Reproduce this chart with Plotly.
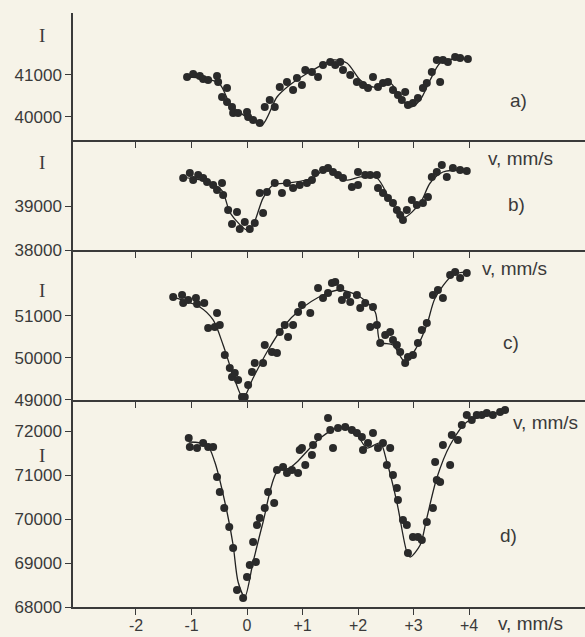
import plotly.graph_objects as go

# ---------------- data ----------------
# panel a
a_v = [-1.08,-0.97,-0.85,-0.79,-0.70,-0.54,-0.52,-0.36,-0.45,-0.36,-0.27,-0.25,-0.16,0.00,0.02,0.11,0.23,0.32,0.41,0.50,
       0.59,0.72,0.83,0.90,0.99,1.05,1.17,1.28,1.37,1.50,1.59,1.68,1.73,1.86,1.98,2.09,2.18,2.27,2.36,2.45,2.54,2.63,2.72,
       2.85,2.79,2.90,2.99,3.08,3.17,3.24,3.33,3.42,3.48,3.53,3.62,3.75,3.84,3.98]
a_I = [40952,41024,40976,40905,40881,40976,40833,40690,40476,40357,40238,40095,40095,40119,40000,39929,39857,40238,40405,40238,
       40714,40833,40643,40929,40762,41119,41071,40952,41238,41310,41238,41310,41119,41000,40833,40762,40690,40952,40714,40810,
       40833,40643,40524,40595,40405,40286,40333,40452,40690,40810,41071,41357,40833,41357,41310,41429,41405,41381]
a_fit_v = [-1.08,-0.8,-0.5,-0.3,-0.1,0.05,0.27,0.54,0.77,1.19,1.55,1.8,2.04,2.27,2.58,2.76,2.94,3.12,3.30,3.48,3.71,3.98]
a_fit_I = [40950,40920,40800,40300,40080,39950,39810,40476,40762,41119,41357,41286,40880,40714,40810,40476,40238,40405,40880,
           41286,41381,41381]

# panel b
b_v = [-1.15,-1.03,-0.97,-0.88,-0.79,-0.72,-0.61,-0.45,-0.54,-0.43,-0.34,-0.18,-0.27,-0.13,-0.04,0.05,0.14,0.29,0.23,0.36,
       0.50,0.63,0.72,0.83,0.95,1.08,1.17,1.23,1.37,1.46,1.55,1.64,1.73,1.89,2.00,2.00,2.13,2.22,2.34,2.36,2.45,2.54,2.63,
       2.70,2.76,2.81,2.88,2.97,3.06,3.17,3.26,3.33,3.42,3.51,3.60,3.71,3.84,3.96]
b_I = [39636,39750,39591,39705,39636,39545,39477,39523,39364,39250,38909,38864,38591,38477,38636,38477,38614,38841,39295,39318,
       39523,39295,39523,39409,39477,39523,39591,39750,39818,39864,39773,39705,39636,39432,39477,39773,39705,39705,39705,39409,
       39295,39182,39068,38909,38795,38682,38909,39136,39023,39068,39205,39659,39773,39932,39659,39864,39818,39795]
b_fit_v = [-1.15,-0.7,-0.45,-0.3,0.0,0.11,0.29,0.47,0.77,1.19,1.44,1.8,2.04,2.34,2.58,2.81,3.12,3.30,3.53,3.96]
b_fit_I = [39650,39550,39350,38840,38455,38570,39180,39477,39523,39636,39864,39590,39660,39636,39136,38730,39068,39523,
           39773,39818]

# panel c
c_v = [-1.33,-1.17,-1.15,-1.06,-0.92,-0.90,-0.77,-0.70,-0.54,-0.58,-0.49,-0.40,-0.31,-0.27,-0.22,-0.16,-0.09,-0.04,0.02,0.09,
       0.14,0.29,0.32,0.45,0.54,0.59,0.68,0.74,0.83,0.92,0.99,1.14,1.28,1.37,1.46,1.53,1.59,1.68,1.71,1.80,1.86,1.98,2.04,
       2.13,2.27,2.22,2.34,2.40,2.49,2.58,2.63,2.70,2.76,2.85,2.90,2.99,3.08,3.15,3.24,3.35,3.44,3.53,3.66,3.75,3.84,3.96]
c_I = [51452,51500,51310,51381,51429,51286,51310,50714,51071,50738,50786,50071,49762,49548,49643,49476,49071,49071,49357,49667,
       49881,49881,50310,50143,50119,50619,50786,50500,50786,51095,51262,51071,51667,51429,51548,51786,51810,51667,51381,51500,
       51333,51500,51190,51310,51214,50738,50786,50357,50548,50619,50429,50310,50143,49881,50024,50071,50357,50667,50833,51500,
       51619,51429,51976,52048,51905,52024]
c_fit_v = [-1.33,-0.85,-0.61,-0.43,-0.25,-0.07,0.11,0.36,0.65,0.95,1.37,1.68,2.04,2.31,2.40,2.63,2.85,3.06,3.24,3.39,3.71,3.96]
c_fit_I = [51450,51214,50905,50310,49595,49048,49524,50143,50738,51143,51500,51619,51452,51095,50381,50310,49905,50262,50786,
           51429,51976,52048]

# panel d
d_v = [-1.05,-1.03,-0.90,-0.79,-0.70,-0.61,-0.54,-0.49,-0.41,-0.32,-0.25,-0.18,-0.07,0.00,0.05,0.16,0.11,0.18,0.23,0.32,
       0.38,0.49,0.54,0.65,0.72,0.81,0.92,0.95,0.99,1.05,1.17,1.19,1.28,1.46,1.50,1.55,1.64,1.77,1.89,1.98,2.07,2.09,2.18,
       2.27,2.36,2.45,2.58,2.52,2.63,2.70,2.72,2.81,2.88,2.90,2.99,3.08,3.15,3.24,3.35,3.39,3.42,3.48,3.53,3.66,3.69,3.80,
       3.87,3.96,4.05,4.14,4.23,4.32,4.43,4.56,4.65]
d_I = [71841,71636,71614,71727,71636,71636,70955,70614,70250,69818,69341,68386,68205,68682,68955,69023,69477,69864,70023,70250,
       70614,70364,71114,71182,71045,71114,71045,71568,71614,71227,71455,71682,71864,72295,72023,71614,72068,72091,72023,71955,
       71864,71568,71727,71955,71614,71727,71614,71227,71000,70705,70432,69977,69864,69227,69591,69591,69523,69932,70250,71295,
       70886,70841,71682,71227,71909,71795,72136,72364,72250,72364,72364,72409,72364,72432,72477]
d_fit_v = [-1.05,-0.72,-0.58,-0.36,-0.25,-0.16,-0.04,0.11,0.29,0.54,0.77,0.90,1.32,1.68,1.98,2.16,2.40,2.52,2.70,2.88,2.94,
           3.12,3.24,3.42,3.66,3.96,4.38,4.65]
d_fit_I = [71750,71682,71295,70159,69409,68568,68227,69023,69932,71068,71159,71295,71841,72091,71909,71614,71727,71295,70386,
           69250,69136,69409,70023,70932,71682,72205,72364,72477]

x_ticks = [-2, -1, 0, 1, 2, 3, 4]
x_tick_labels = ["-2", "-1", "0", "+1", "+2", "+3", "+4"]
panels = [
    dict(v=a_v, I=a_I, fv=a_fit_v, fI=a_fit_I, rng=[39452, 42476], ticks=[40000, 41000], dom=[0.7862, 1.0]),
    dict(v=b_v, I=b_I, fv=b_fit_v, fI=b_fit_I, rng=[38000, 40500], ticks=[38000, 39000], dom=[0.6010, 0.7862]),
    dict(v=c_v, I=c_I, fv=c_fit_v, fI=c_fit_I, rng=[49000, 52571], ticks=[49000, 50000, 51000], dom=[0.3485, 0.6010]),
    dict(v=d_v, I=d_I, fv=d_fit_v, fI=d_fit_I, rng=[68000, 72705], ticks=[68000, 69000, 70000, 71000, 72000], dom=[0.0, 0.3485]),
]
panel_labels = ["a)", "b)", "c)", "d)"]

# ---------------- figure ----------------
INK = "#3a3a3a"
BG = "#f6f3e8"
FONT = "Liberation Sans"

fig = go.Figure()
layout = dict(
    width=585, height=637, paper_bgcolor=BG, plot_bgcolor=BG, showlegend=False,
    margin=dict(l=73, r=0, t=13, b=30, autoexpand=False),
    font=dict(family=FONT, size=17, color=INK),
)
for i, p in enumerate(panels):
    n = "" if i == 0 else str(i + 1)
    fig.add_trace(go.Scatter(x=p["fv"], y=p["fI"], mode="lines", line=dict(color="#222222", width=1.3, shape="spline", smoothing=0.8),
                             xaxis="x" + n, yaxis="y" + n, hoverinfo="skip"))
    fig.add_trace(go.Scatter(x=p["v"], y=p["I"], mode="markers", marker=dict(color="#2a2a2a", size=8),
                             xaxis="x" + n, yaxis="y" + n))
    layout["xaxis" + n] = dict(
        range=[-3.135, 6.09], domain=[0, 1], anchor="y" + n, showline=True, linecolor=INK, linewidth=1.5,
        showgrid=False, zeroline=False, ticks="outside", ticklen=6, tickwidth=1.2, tickcolor=INK,
        tickvals=x_ticks, ticktext=x_tick_labels, showticklabels=(i == 3), fixedrange=True, automargin=False,
        tickfont=dict(size=16, color=INK), ticklabelstandoff=-3,
    )
    layout["yaxis" + n] = dict(
        range=p["rng"], domain=p["dom"], anchor="x" + n, showline=True, linecolor=INK, linewidth=1.5,
        showgrid=False, zeroline=False, ticks="outside", ticklen=6, tickwidth=1.2, tickcolor=INK, automargin=False,
        tickvals=p["ticks"], ticktext=[str(t) for t in p["ticks"]], tickfont=dict(size=17, color=INK),
    )
fig.update_layout(**layout)

ann = []
# "I" labels
for y in [35, 162, 290, 455]:
    ann.append(dict(x=42, y=y, text="I", font=dict(family="Liberation Serif", size=19, color=INK)))
# panel labels
for (x, y), t in zip([(518, 100), (516, 205), (511, 342), (508, 535)], panel_labels):
    ann.append(dict(x=x, y=y, text=t, font=dict(size=19, color=INK)))
# "v, mm/s" labels
for x, y in [(520, 158), (514, 268), (545, 422), (530, 623)]:
    ann.append(dict(x=x, y=y, text="v, mm/s", font=dict(size=19, color=INK)))
for a in ann:
    a.update(xref="paper", yref="paper", showarrow=False, xanchor="center", yanchor="middle")
    a["x"] = (a["x"] - 73) / (585 - 73)
    a["y"] = (607 - a["y"]) / (607 - 13)
fig.update_layout(annotations=ann)

fig.write_html("out.html", config={"displayModeBar": False},
               post_script="document.body.style.margin='0';document.body.style.background='%s';" % BG)
